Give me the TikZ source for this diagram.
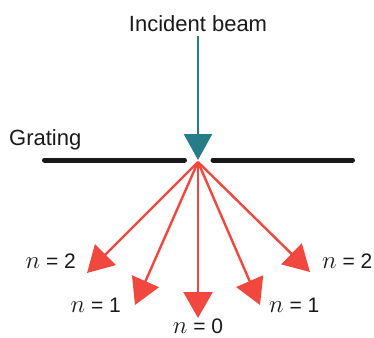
\documentclass[tikz,border=0pt]{standalone}
\usepackage{fontspec}
\setmainfont{Liberation Sans}
\usetikzlibrary{arrows.meta}
\definecolor{beamteal}{RGB}{38,124,137}
\definecolor{diffred}{RGB}{240,72,62}
\definecolor{gratingblack}{RGB}{25,25,25}
\newcommand{\ordn}{{\fontsize{25}{28}\selectfont$n$}}
\tikzset{
  lbl/.style={inner sep=0pt, font=\fontsize{21}{25}\selectfont, text=black!90},
  big/.style={inner sep=0pt, font=\fontsize{22}{26}\selectfont, text=black!90},
  order/.style={draw=diffred, line width=2.4pt, -{Triangle[width=29pt,length=26pt]}, color=diffred},
  incident/.style={draw=beamteal, line width=2.5pt, -{Triangle[width=28pt,length=26pt]}, color=beamteal},
  bar/.style={draw=gratingblack, line width=5pt, line cap=round}
}
\begin{document}
\begin{tikzpicture}[x=1pt,y=1pt]
\useasboundingbox (0,0) rectangle (374,-337);
% coordinates
\coordinate (top) at (198,-36);
\coordinate (apex) at (198,-160);
\coordinate (src) at (198,-162);
\coordinate (gl1) at (44.5,-160);
\coordinate (gl2) at (184.5,-160);
\coordinate (gr1) at (213,-160);
\coordinate (gr2) at (352.5,-160);
\coordinate (t2l) at (87,-273);
\coordinate (t1l) at (135,-305);
\coordinate (t0) at (198,-318);
\coordinate (t1r) at (260,-305);
\coordinate (t2r) at (310,-272);
% texts
\node[big, anchor=base] (inc) at (198,-31) {Incident beam};
\node[big, anchor=base west] (grat) at (9,-145) {Grating};
\node[lbl, anchor=base east] (l2l) at (76,-268) {\ordn{} = 2};
\node[lbl, anchor=base east] (l1l) at (121,-312) {\ordn{} = 1};
\node[lbl, anchor=base] (l0) at (198,-333) {\ordn{} = 0};
\node[lbl, anchor=base west] (l1r) at (269,-312) {\ordn{} = 1};
\node[lbl, anchor=base west] (l2r) at (322,-268) {\ordn{} = 2};
% grating
\draw[bar] (gl1) -- (gl2);
\draw[bar] (gr1) -- (gr2);
% diffracted orders
\draw[order] (src) -- (t2l);
\draw[order] (src) -- (t1l);
\draw[order] (src) -- (t0);
\draw[order] (src) -- (t1r);
\draw[order] (src) -- (t2r);
% incident beam
\draw[incident] (top) -- (apex);
\end{tikzpicture}
\end{document}
